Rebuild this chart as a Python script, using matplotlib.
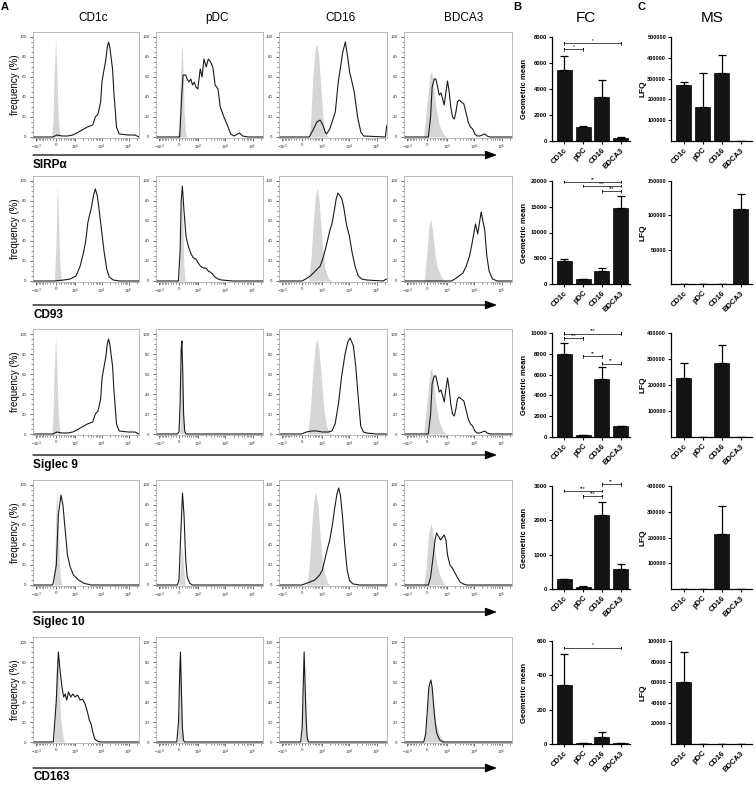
import numpy as np
import matplotlib
matplotlib.use('Agg')
import matplotlib.pyplot as plt
from matplotlib.patches import FancyArrowPatch
from matplotlib.ticker import FixedLocator, NullFormatter

plt.rcParams['font.family'] = 'Liberation Sans'
plt.rcParams['mathtext.fontset'] = 'custom'
plt.rcParams['mathtext.rm'] = 'Liberation Sans'
plt.rcParams['axes.unicode_minus'] = False

# ---- data -----------------------------------------------------------------
CELLS = ['CD1c', 'pDC', 'CD16', 'BDCA3']
MARKERS = ['SIRPα', 'CD93', 'Siglec 9', 'Siglec 10', 'CD163']

# histograms: (fluorescence, % of max); *_C = isotype (grey), *_S = stained (line)
SIRPA_CD1C_C = [(-1340, 0), (-140, 0), (-93, 15), (-47, 65), (0, 98), (43, 65), (89, 20), (136, 5), (185, 0), (240000, 0)]
SIRPA_CD1C_S = [(-1340, 0), (-93, 0), (43, 2), (236, 1), (474, 1), (812, 2), (1180, 4), (1880, 7), (2960, 10),
                (4680, 12), (5860, 20), (7340, 23), (9200, 35), (10300, 55), (11500, 63), (14450, 78), (16200, 90),
                (18000, 95), (20000, 90), (25300, 68), (28300, 45), (35400, 10), (44500, 3), (97700, 2),
                (172000, 2), (240000, 0)]
SIRPA_PDC_C = [(-1340, 0), (-47, 0), (0, 10), (43, 50), (89, 85), (110, 93), (136, 75), (185, 25), (236, 5), (300, 0), (240000, 0)]
SIRPA_PDC_S = [(-1340, 0), (30, 0), (95, 40), (148, 62), (240, 62), (300, 58), (380, 55), (474, 58), (570, 52),
               (680, 55), (800, 50), (950, 48), (1180, 68), (1380, 60), (1640, 78), (1990, 70), (2370, 78),
               (2900, 75), (3500, 70), (4250, 52), (5400, 48), (6560, 30), (8900, 20), (11900, 12), (15700, 3),
               (20900, 1), (33000, 4), (43500, 1), (68000, 0), (240000, 0)]
SIRPA_CD16_C = [(-1340, 0), (255, 0), (320, 20), (410, 60), (530, 88), (633, 93), (760, 80), (950, 45), (1150, 15),
                (1420, 3), (1800, 0), (240000, 0)]
SIRPA_CD16_S = [(-1340, 0), (250, 0), (300, 2), (445, 8), (633, 15), (860, 17), (1100, 12), (1350, 5), (1520, 3),
                (2000, 8), (3200, 25), (4100, 55), (6000, 85), (7400, 95), (9000, 80), (10600, 65), (12900, 55),
                (15600, 45), (20600, 20), (27000, 5), (34000, 1), (210000, 0), (230000, 10), (240000, 12)]
SIRPA_BDCA3_C = [(-1340, 0), (-120, 0), (-80, 10), (5, 35), (95, 62), (155, 66), (220, 55), (320, 30), (480, 12),
                 (720, 3), (990, 0), (240000, 0)]
SIRPA_BDCA3_S = [(-1340, 0), (43, 0), (120, 20), (175, 50), (255, 58), (320, 58), (400, 50), (480, 42), (580, 44),
                 (680, 38), (790, 32), (925, 45), (1070, 56), (1240, 45), (1420, 30), (1660, 20), (1930, 18),
                 (2200, 25), (2520, 35), (2900, 37), (3500, 35), (4300, 33), (5100, 25), (6200, 15), (7500, 10),
                 (9000, 8), (10800, 3), (13100, 1), (16200, 1), (24800, 3), (30300, 1), (37500, 0), (240000, 0)]

CD93_CD1C_C = [(-1340, 0), (-47, 0), (5, 30), (43, 80), (65, 95), (95, 70), (136, 25), (185, 3), (236, 0), (240000, 0)]
CD93_CD1C_S = [(-1340, 0), (-47, 0), (300, 1), (633, 2), (1100, 5), (1590, 15), (2100, 28), (2570, 40), (3070, 58),
               (3500, 65), (4080, 72), (4950, 85), (5850, 92), (6950, 85), (8200, 70), (10000, 50), (12250, 30),
               (15400, 12), (19100, 4), (26800, 1), (47500, 0), (240000, 0)]
CD93_PDC_C = [(-1340, 0), (15, 0), (55, 40), (100, 90), (136, 60), (175, 15), (215, 2), (255, 0), (240000, 0)]
CD93_PDC_S = [(-1340, 0), (-15, 0), (43, 30), (80, 80), (120, 95), (180, 70), (255, 45), (352, 35), (465, 28),
              (620, 23), (800, 22), (980, 18), (1200, 15), (1550, 13), (1950, 13), (2380, 10), (3150, 8),
              (4180, 4), (5450, 2), (7300, 1), (19300, 0), (240000, 0)]
CD93_CD16_C = [(-1340, 0), (200, 0), (236, 2), (335, 25), (420, 55), (540, 85), (645, 93), (770, 82), (925, 55),
               (1120, 30), (1360, 12), (1820, 2), (2480, 0), (240000, 0)]
CD93_CD16_S = [(-1340, 0), (3, 0), (120, 2), (300, 5), (540, 10), (870, 15), (1180, 25), (1570, 38), (1990, 50),
               (2450, 58), (2920, 70), (3430, 82), (3970, 88), (4830, 85), (5550, 82), (6350, 75), (8350, 55),
               (10400, 45), (12700, 30), (16600, 15), (21800, 5), (28900, 2), (43500, 1), (172000, 0),
               (230000, 2), (240000, 2)]
CD93_BDCA3_C = [(-1340, 0), (-120, 0), (-90, 2), (0, 30), (62, 55), (120, 62), (190, 50), (295, 25), (405, 12),
                (570, 5), (770, 1), (1000, 0), (240000, 0)]
CD93_BDCA3_S = [(-1340, 0), (1520, 0), (2020, 2), (2860, 5), (3990, 8), (5270, 15), (6950, 25), (8600, 38),
                (11400, 57), (13700, 47), (18300, 69), (24800, 50), (29400, 25), (35500, 10), (47000, 2),
                (70500, 0), (240000, 0)]

SIGLEC9_PDC_C = [(-1340, 0), (30, 0), (70, 50), (100, 88), (128, 55), (165, 10), (195, 0), (240000, 0)]
SIGLEC9_PDC_S = [(-1340, 0), (-47, 0), (5, 2), (43, 30), (80, 85), (105, 93), (136, 60), (165, 20), (205, 3),
                 (255, 0), (240000, 0)]
SIGLEC9_CD16_C = [(-1340, 0), (170, 0), (205, 2), (300, 25), (420, 65), (540, 90), (645, 95), (770, 85), (970, 55),
                  (1200, 25), (1510, 8), (2010, 1), (2500, 0), (240000, 0)]
SIGLEC9_CD16_S = [(-1340, 0), (-20, 0), (148, 2), (348, 3), (633, 3), (1045, 2), (1340, 2), (1780, 2), (2380, 3),
                  (3150, 10), (4150, 30), (5450, 58), (7250, 80), (9100, 92), (11000, 96), (12700, 92),
                  (14500, 88), (17600, 68), (22000, 35), (26800, 8), (33500, 2), (44300, 1), (97700, 0),
                  (240000, 0)]

SIGLEC10_CD1C_C = [(-1340, 0), (-57, 0), (-22, 30), (5, 75), (43, 95), (80, 70), (120, 30), (160, 10), (195, 2),
                   (255, 0), (240000, 0)]
SIGLEC10_CD1C_S = [(-1340, 0), (-110, 0), (-80, 2), (23, 20), (95, 70), (188, 90), (265, 80), (362, 55), (474, 30),
                   (633, 18), (870, 10), (1360, 5), (2100, 2), (2800, 1), (4180, 0), (240000, 0)]
SIGLEC10_PDC_C = [(-1340, 0), (5, 0), (55, 20), (100, 40), (140, 30), (195, 8), (236, 0), (240000, 0)]
SIGLEC10_PDC_S = [(-1340, 0), (-47, 0), (5, 5), (65, 50), (125, 92), (180, 70), (245, 25), (305, 8), (415, 2),
                  (555, 0), (240000, 0)]
SIGLEC10_CD16_C = [(-1340, 0), (120, 0), (175, 2), (255, 20), (348, 55), (460, 85), (570, 93), (700, 80), (860, 50),
                   (1045, 25), (1324, 10), (1672, 2), (2020, 0), (240000, 0)]
SIGLEC10_CD16_S = [(-1340, 0), (-20, 0), (90, 1), (280, 3), (510, 5), (825, 10), (1055, 15), (1300, 25), (1590, 35),
                   (2000, 45), (2500, 60), (3080, 78), (3720, 92), (4250, 97), (4880, 90), (5800, 70), (7050, 40),
                   (8600, 15), (10700, 4), (14150, 1), (25300, 0), (240000, 0)]
SIGLEC10_BDCA3_C = [(-1340, 0), (-110, 0), (-22, 20), (43, 50), (136, 62), (215, 50), (300, 30), (400, 18),
                    (505, 10), (633, 5), (860, 0), (240000, 0)]
SIGLEC10_BDCA3_S = [(-1340, 0), (43, 0), (120, 8), (220, 30), (285, 45), (355, 52), (465, 48), (555, 45), (680, 48),
                    (790, 50), (925, 45), (1070, 30), (1324, 20), (1620, 17), (2040, 12), (2460, 8), (3100, 3),
                    (4100, 1), (5400, 0), (240000, 0)]

CD163_CD1C_C = [(-1340, 0), (-57, 0), (-22, 25), (15, 70), (65, 93), (120, 60), (175, 25), (236, 10), (300, 2),
                (348, 0), (240000, 0)]
CD163_CD1C_S = [(-1340, 0), (-80, 0), (20, 40), (95, 90), (160, 70), (225, 55), (295, 45), (362, 48), (440, 42),
                (530, 50), (675, 45), (812, 48), (1010, 45), (1250, 47), (1590, 42), (1950, 43), (2440, 38),
                (2980, 30), (3480, 22), (4070, 18), (4700, 10), (5550, 3), (6950, 1), (8700, 0), (240000, 0)]
CD163_PDC_C = [(-1340, 0), (-47, 0), (0, 30), (35, 75), (58, 85), (82, 55), (125, 12), (170, 0), (240000, 0)]
CD163_PDC_S = [(-1340, 0), (-70, 0), (-10, 20), (30, 70), (55, 90), (80, 60), (120, 15), (160, 2), (195, 0), (240000, 0)]
CD163_CD16_C = [(-1340, 0), (-22, 0), (15, 30), (62, 70), (95, 55), (160, 10), (205, 0), (240000, 0)]
CD163_CD16_S = [(-1340, 0), (-47, 0), (5, 15), (43, 60), (70, 90), (95, 65), (136, 25), (175, 5), (225, 0), (240000, 0)]
CD163_BDCA3_C = [(-1340, 0), (-110, 0), (-47, 10), (5, 32), (62, 55), (128, 60), (175, 52), (236, 35), (300, 22),
                 (400, 12), (570, 5), (860, 0), (240000, 0)]
CD163_BDCA3_S = [(-1340, 0), (-110, 0), (-47, 8), (5, 30), (62, 55), (128, 62), (175, 55), (236, 35), (300, 18),
                 (370, 8), (505, 2), (700, 0), (240000, 0)]

# Siglec 9 on CD1c / BDCA3 look the same as SIRPα in the figure
HIST = [
    [(SIRPA_CD1C_C, SIRPA_CD1C_S), (SIRPA_PDC_C, SIRPA_PDC_S), (SIRPA_CD16_C, SIRPA_CD16_S), (SIRPA_BDCA3_C, SIRPA_BDCA3_S)],
    [(CD93_CD1C_C, CD93_CD1C_S), (CD93_PDC_C, CD93_PDC_S), (CD93_CD16_C, CD93_CD16_S), (CD93_BDCA3_C, CD93_BDCA3_S)],
    [(SIRPA_CD1C_C, SIRPA_CD1C_S), (SIGLEC9_PDC_C, SIGLEC9_PDC_S), (SIGLEC9_CD16_C, SIGLEC9_CD16_S), (SIRPA_BDCA3_C, SIRPA_BDCA3_S)],
    [(SIGLEC10_CD1C_C, SIGLEC10_CD1C_S), (SIGLEC10_PDC_C, SIGLEC10_PDC_S), (SIGLEC10_CD16_C, SIGLEC10_CD16_S), (SIGLEC10_BDCA3_C, SIGLEC10_BDCA3_S)],
    [(CD163_CD1C_C, CD163_CD1C_S), (CD163_PDC_C, CD163_PDC_S), (CD163_CD16_C, CD163_CD16_S), (CD163_BDCA3_C, CD163_BDCA3_S)],
]

# B: flow cytometry geometric mean (mean, upper SD)
FC_MEAN = [[5450, 1080, 3350, 250], [4490, 900, 2560, 14680], [8000, 160, 5600, 1020],
           [280, 70, 2145, 570], [346, 5, 39, 5]]
FC_ERR = [[1100, 100, 1330, 30], [380, 40, 580, 2420], [1060, 20, 1120, 30],
          [25, 10, 385, 155], [176, 0, 33, 0]]
FC_TICKS = [[0, 2000, 4000, 6000, 8000], [0, 5000, 10000, 15000, 20000], [0, 2000, 4000, 6000, 8000, 10000],
            [0, 1000, 2000, 3000], [0, 200, 400, 600]]
FC_SIG = [[(0, 3, '*', 7500), (0, 1, '*', 7050)],
          [(0, 3, '**', 19800), (1, 3, '***', 19000), (2, 3, '***', 18000)],
          [(0, 3, '***', 9950), (0, 1, '***', 9500), (1, 2, '**', 7750), (2, 3, '**', 7050)],
          [(2, 3, '**', 3050), (0, 2, '***', 2850), (1, 2, '***', 2700)],
          [(0, 3, '*', 560)]]

# C: mass spectrometry LFQ
MS_MEAN = [[270000, 165000, 328000, 1500], [500, 500, 500, 109000], [228000, 1000, 286000, 1000],
           [1000, 1000, 215000, 1000], [60000, 200, 200, 200]]
MS_ERR = [[13000, 160000, 87000, 0], [0, 0, 0, 22000], [55000, 0, 68000, 0],
          [0, 0, 109000, 0], [29500, 0, 0, 0]]
MS_TICKS = [[100000, 200000, 300000, 400000, 500000], [50000, 100000, 150000],
            [100000, 200000, 300000, 400000], [100000, 200000, 300000, 400000],
            [20000, 40000, 60000, 80000, 100000]]
MS_MAX = [500000, 150000, 400000, 400000, 100000]

# ---- layout (pixels of the 756x787 canvas) ---------------------------------
W, H = 756, 787
COL_X = [(33, 139), (156, 263), (279, 387), (404, 512)]
TITLE_X = [93, 217, 340, 464]
ZERO_Y = [137, 281, 434, 585, 742]
ARROW_Y = [155, 305, 455, 612, 768]
LABEL_Y = [165, 315, 465, 622, 777]
BAR_Y = [(37, 141), (181, 284), (333, 437), (486, 589), (641, 744)]


def rect(l, t, r, b):
    return [l / W, 1 - b / H, (r - l) / W, (b - t) / H]


def fy(py):
    return 1 - py / H


fwd = lambda x: np.arcsinh(np.asarray(x, float) / 400.0)
inv = lambda y: 400.0 * np.sinh(np.asarray(y, float))

XMAJ = [-1000, 0, 1000, 10000, 100000]
XLAB = [r'$\mathregular{-10^3}$', '0', r'$\mathregular{10^3}$', r'$\mathregular{10^4}$', r'$\mathregular{10^5}$']
XMIN = ([v for v in range(-900, 0, 100)] + [v for v in range(100, 1000, 100)] +
        [v for v in range(2000, 10000, 1000)] + [v for v in range(20000, 100000, 10000)] + [200000])

fig = plt.figure(figsize=(W / 100, H / 100), dpi=100)

for r in range(5):
    z = ZERO_Y[r]
    for c in range(4):
        l, rr = COL_X[c]
        ax = fig.add_axes(rect(l, z - 105, rr, z + 1))
        ax.set_xscale('function', functions=(fwd, inv))
        ctrl, stain = HIST[r][c]
        cx, cy = zip(*ctrl)
        sx, sy = zip(*stain)
        ax.fill_between(cx, cy, 0, color='#d6d6d6', lw=0)
        ax.plot(sx, sy, color='#1a1a1a', lw=0.8)
        ax.set_xlim(-1340, 240000)
        ax.set_ylim(-1, 105)
        ax.xaxis.set_major_locator(FixedLocator(XMAJ))
        ax.set_xticklabels(XLAB)
        ax.xaxis.set_minor_locator(FixedLocator(XMIN))
        ax.xaxis.set_minor_formatter(NullFormatter())
        ax.set_yticks([0, 20, 40, 60, 80, 100])
        ax.yaxis.set_minor_locator(FixedLocator([v for v in range(5, 100, 5) if v % 20]))
        ax.tick_params(which='major', length=2.2, width=0.5, labelsize=3.2, colors='#333333', pad=1.5)
        ax.tick_params(which='minor', length=1.2, width=0.4, colors='#333333')
        ax.tick_params(axis='y', pad=2.5)
        for s in ax.spines.values():
            s.set_color('#b0b0b0')
            s.set_linewidth(0.6)
        if r == 0:
            fig.text(TITLE_X[c] / W, fy(18), CELLS[c], ha='center', va='center', fontsize=8.5)
        if c == 0:
            fig.text(15 / W, fy(z - 52), 'frequency (%)', rotation=90, ha='center', va='center', fontsize=7)
    fig.add_artist(FancyArrowPatch((33 / W, fy(ARROW_Y[r])), (497 / W, fy(ARROW_Y[r])),
                                   transform=fig.transFigure, arrowstyle='-|>,head_length=7,head_width=2.6',
                                   mutation_scale=1, lw=0.9, color='k', shrinkA=0, shrinkB=0))
    fig.text(33 / W, fy(LABEL_Y[r]), MARKERS[r], ha='left', va='center', fontsize=8.5, fontweight='bold')


def bar_panel(ax, vals, errs, ticks, ymax, xlim):
    x = np.arange(4)
    ax.bar(x, vals, width=0.8, color='#141414', edgecolor='k', lw=0.5)
    ax.errorbar(x, vals, yerr=[np.zeros(4), errs], fmt='none', ecolor='k', elinewidth=0.9,
                capsize=2.8, capthick=0.9)
    ax.set_xlim(*xlim)
    ax.set_ylim(0, ymax)
    ax.set_yticks(ticks)
    ax.set_yticklabels([str(t) for t in ticks], fontsize=4.2, fontweight='bold')
    ax.set_xticks(x)
    ax.set_xticklabels(CELLS, rotation=45, ha='right', rotation_mode='anchor', fontsize=5.5, fontweight='bold')
    for s in ('top', 'right'):
        ax.spines[s].set_visible(False)
    for s in ('left', 'bottom'):
        ax.spines[s].set_linewidth(0.9)
    ax.tick_params(length=2.5, width=0.8, pad=1)
    ax.tick_params(axis='x', pad=1.5)


for r in range(5):
    t, b = BAR_Y[r]
    # B
    ax = fig.add_axes(rect(552, t, 630, b))
    ymax = FC_TICKS[r][-1]
    bar_panel(ax, FC_MEAN[r], FC_ERR[r], FC_TICKS[r], ymax, (-0.66, 3.5))
    d = ymax * 0.013
    for i, j, txt, y in FC_SIG[r]:
        ax.plot([i, i, i, j, j, j], [y - d, y + d, y, y, y + d, y - d], color='k', lw=0.5, clip_on=False)
        ax.text((i + j) / 2, y + d * 0.3, txt, ha='center', va='bottom', fontsize=3.5, clip_on=False)
    fig.text(525 / W, fy((t + b) / 2), 'Geometric mean', rotation=90, ha='center', va='center',
             fontsize=5.5, fontweight='bold')
    # C
    ax = fig.add_axes(rect(671, t, 752, b))
    bar_panel(ax, MS_MEAN[r], MS_ERR[r], MS_TICKS[r], MS_MAX[r], (-0.68, 3.6))
    ax.tick_params(axis='y', labelsize=4.0)
    fig.text(643 / W, fy((t + b) / 2), 'LFQ', rotation=90, ha='center', va='center',
             fontsize=6, fontweight='bold')

fig.text(586 / W, fy(18), 'FC', ha='center', va='center', fontsize=11)
fig.text(712 / W, fy(18), 'MS', ha='center', va='center', fontsize=11)
fig.text(5 / W, fy(7), 'A', ha='center', va='center', fontsize=8, fontweight='bold')
fig.text(517 / W, fy(7), 'B', ha='center', va='center', fontsize=8, fontweight='bold')
fig.text(642 / W, fy(7), 'C', ha='center', va='center', fontsize=8, fontweight='bold')

fig.savefig('out.png', dpi=100)
